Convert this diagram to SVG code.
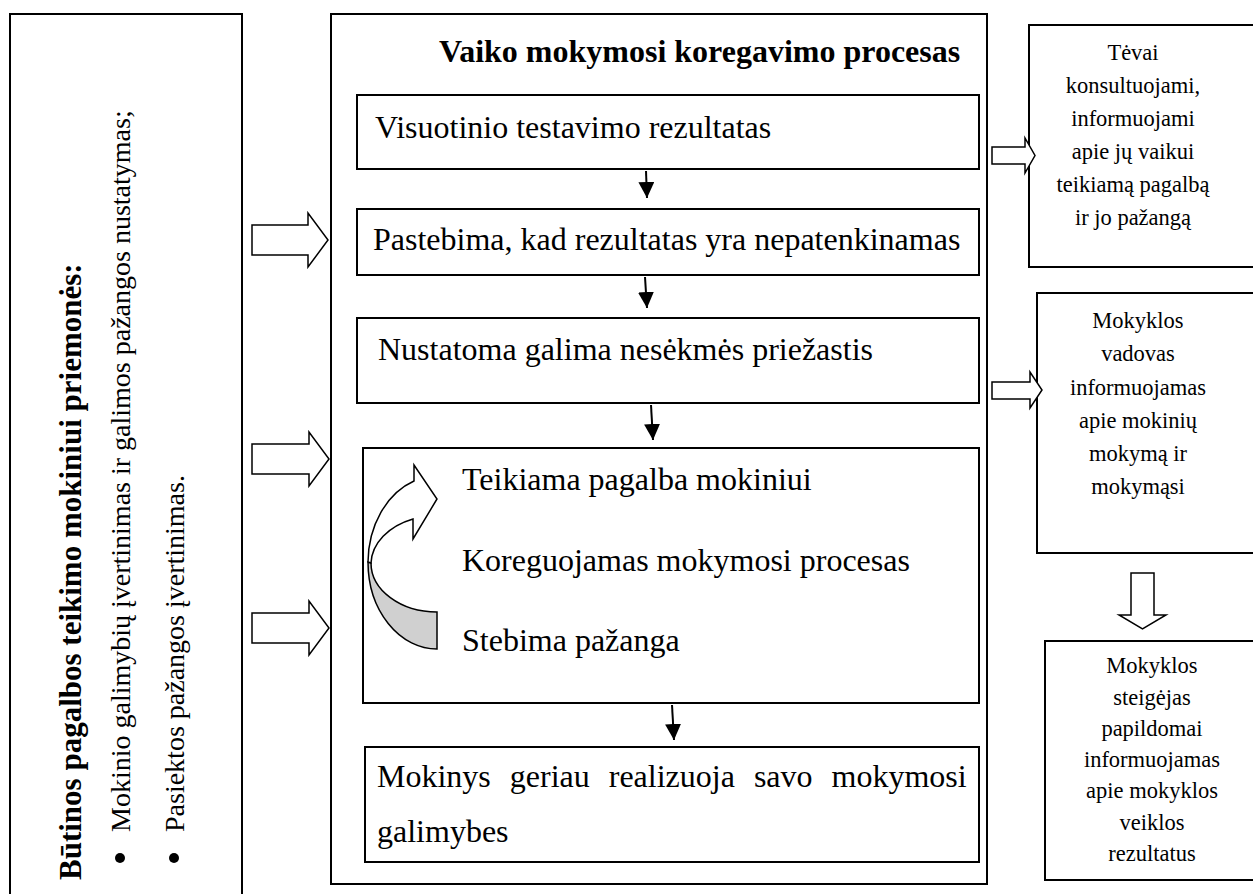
<svg xmlns="http://www.w3.org/2000/svg" width="1253" height="894" viewBox="0 0 1253 894">
  <style>
    .box{fill:#fff;stroke:#000;stroke-width:2}
    .t{font-family:"Liberation Serif","Times New Roman",serif;fill:#000}
    .body{font-size:32px}
    .bold{font-weight:bold}
    .side{font-size:22.5px;text-anchor:middle}
    .blk{fill:#fff;stroke:#000;stroke-width:1.5;stroke-linejoin:miter}
    .thin{stroke:#000;stroke-width:2;fill:none}
  </style>
  <defs>
    <marker id="head" markerUnits="userSpaceOnUse" markerWidth="16" markerHeight="16" refX="16" refY="8" orient="auto">
      <path d="M0,0 L16,8 L0,16 Z" fill="#000"/>
    </marker>
  </defs>
  <rect width="1253" height="894" fill="#fff"/>

  <!-- left column: support measures, vertical text -->
  <g id="measures">
    <rect class="box" x="10" y="14" width="232" height="890"/>
    <text class="t bold" font-size="31" transform="translate(81,880) rotate(-90)">Būtinos pagalbos teikimo mokiniui priemonės:</text>
    <circle cx="120" cy="858" r="5"/>
    <text class="t" font-size="28" transform="translate(130,832) rotate(-90)">Mokinio galimybių įvertinimas ir galimos pažangos nustatymas;</text>
    <circle cx="174" cy="858" r="5"/>
    <text class="t" font-size="28" transform="translate(184,832) rotate(-90)">Pasiektos pažangos įvertinimas.</text>
  </g>

  <!-- main process frame -->
  <g id="process">
    <rect class="box" x="331" y="14" width="656" height="870"/>
    <text class="t body bold" x="439" y="62">Vaiko mokymosi koregavimo procesas</text>
  </g>

  <g id="step1">
    <rect class="box" x="357" y="95" width="622" height="74"/>
    <text class="t body" x="375" y="138">Visuotinio testavimo rezultatas</text>
  </g>
  <g id="step2">
    <rect class="box" x="357" y="209" width="622" height="66"/>
    <text class="t body" x="373" y="250">Pastebima, kad rezultatas yra nepatenkinamas</text>
  </g>
  <g id="step3">
    <rect class="box" x="357" y="318" width="622" height="85"/>
    <text class="t body" x="378" y="360">Nustatoma galima nesėkmės priežastis</text>
  </g>
  <g id="step4">
    <rect class="box" x="363" y="448" width="616" height="255"/>
    <!-- curved loop arrow: shaded underside, then white front with head -->
    <path d="M368,562 A69,87 0 0 0 437,649 L437,612 A66,49 0 0 1 371,563 Z" fill="#d0d0d0" stroke="#000" stroke-width="1.5"/>
    <path d="M368,562 A69,87 0 0 1 414,481 L414,465 L437,499 L413,539 L413,519 A66,49 0 0 0 371,563 Z" fill="#fff" stroke="#000" stroke-width="1.5" stroke-linejoin="miter"/>
    <text class="t body" x="462" y="490">Teikiama pagalba mokiniui</text>
    <text class="t body" x="462" y="571">Koreguojamas mokymosi procesas</text>
    <text class="t body" x="462" y="651">Stebima pažanga</text>
  </g>
  <g id="step5">
    <rect class="box" x="365" y="747" width="614" height="115"/>
    <text class="t body" x="377" y="787" word-spacing="11">Mokinys geriau realizuoja savo mokymosi</text>
    <text class="t body" x="377" y="842">galimybes</text>
  </g>

  <!-- right column: who gets informed -->
  <g id="parents">
    <rect class="box" x="1029" y="25" width="240" height="242"/>
    <text class="t side" x="1133" y="60">Tėvai</text>
    <text class="t side" x="1133" y="93">konsultuojami,</text>
    <text class="t side" x="1133" y="126">informuojami</text>
    <text class="t side" x="1133" y="159">apie jų vaikui</text>
    <text class="t side" x="1133" y="192">teikiamą pagalbą</text>
    <text class="t side" x="1133" y="225">ir jo pažangą</text>
  </g>
  <g id="head-teacher">
    <rect class="box" x="1037" y="293" width="240" height="260"/>
    <text class="t side" x="1138" y="328">Mokyklos</text>
    <text class="t side" x="1138" y="361">vadovas</text>
    <text class="t side" x="1138" y="394.5">informuojamas</text>
    <text class="t side" x="1138" y="428">apie mokinių</text>
    <text class="t side" x="1138" y="461">mokymą ir</text>
    <text class="t side" x="1138" y="494">mokymąsi</text>
  </g>
  <g id="founder">
    <rect class="box" x="1045" y="641" width="240" height="239"/>
    <text class="t side" x="1152" y="673">Mokyklos</text>
    <text class="t side" x="1152" y="704.5">steigėjas</text>
    <text class="t side" x="1152" y="736">papildomai</text>
    <text class="t side" x="1152" y="767">informuojamas</text>
    <text class="t side" x="1152" y="798">apie mokyklos</text>
    <text class="t side" x="1152" y="829.5">veiklos</text>
    <text class="t side" x="1152" y="861">rezultatus</text>
  </g>

  <!-- connectors -->
  <g id="connectors">
    <line class="thin" x1="646" y1="171" x2="647" y2="198" marker-end="url(#head)"/>
    <line class="thin" x1="645" y1="277" x2="647" y2="308" marker-end="url(#head)"/>
    <line class="thin" x1="651" y1="405" x2="653" y2="440" marker-end="url(#head)"/>
    <line class="thin" x1="672" y1="705" x2="674" y2="740" marker-end="url(#head)"/>

    <polygon class="blk" points="252,225 308,225 308,213 328,240 308,267 308,255 252,255"/>
    <polygon class="blk" points="252,444 309,444 309,432 329,459 309,486 309,474 252,474"/>
    <polygon class="blk" points="252,613 309,613 309,601 329,628 309,655 309,643 252,643"/>

    <polygon class="blk" points="992,147 1025,147 1025,138 1035,155.5 1025,173 1025,164 992,164"/>
    <polygon class="blk" points="992,382 1030,382 1030,372 1042,390 1030,408 1030,399 992,399"/>
    <polygon class="blk" points="1131,573 1154,573 1154,615 1166,615 1142.5,629 1119,615 1131,615"/>
  </g>
</svg>
